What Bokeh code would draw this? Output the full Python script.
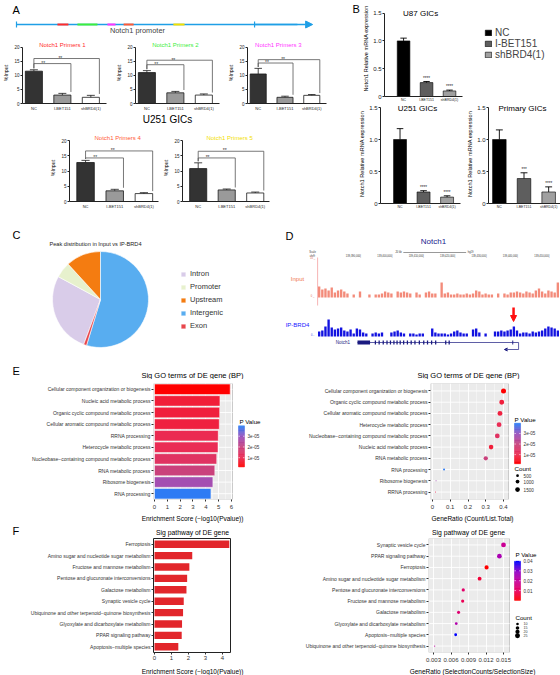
import math
from bokeh.plotting import figure
from bokeh.layouts import row, column
from bokeh.models import (Range1d, FixedTicker, ColumnDataSource,
                          LinearColorMapper, Arrow, NormalHead, VeeHead,
                          CustomJSTickFormatter, BoxAnnotation)
from bokeh.core.properties import value
from bokeh.embed import file_html
from bokeh.resources import INLINE

FONT = "Liberation Sans"

# ======================= DATA =======================
# ---- Panel A: Notch1 promoter ChIP-qPCR, U251 GICs ----
conditions = ["NC", "I-BET151", "shBRD4(1)"]
primer_names = ["Notch1 Primers 1", "Notch1 Primers 2", "Notch1 Primers 3",
                "Notch1 Primers 4", "Notch1 Primers 5"]
primer_colors = ["#FF2B2B", "#3CEE3C", "#FF33FF", "#FF5A36", "#F2E000"]
primer_start = [17.2, 25.6, 38.2, 45.0, 65.9]   # position along promoter (0-100)
primer_end = [21.8, 34.0, 41.6, 49.2, 70.6]

chip_p1 = [11.5, 3.0, 2.2]
chip_p1_sem = [0.5, 0.6, 0.7]
chip_p1_bracket = [14.2, 16.0]
chip_p2 = [11.0, 3.8, 3.0]
chip_p2_sem = [0.7, 0.5, 0.4]
chip_p2_bracket = [13.8, 15.4]
chip_p3 = [10.5, 2.2, 2.9]
chip_p3_sem = [2.0, 0.4, 0.3]
chip_p3_bracket = [14.4, 15.6]
chip_p4 = [12.8, 3.5, 2.6]
chip_p4_sem = [0.7, 0.5, 0.3]
chip_p4_bracket = [14.3, 16.6]
chip_p5 = [10.8, 3.8, 2.8]
chip_p5_sem = [1.9, 0.3, 0.3]
chip_p5_bracket = [14.3, 16.5]
chip_sig = "**"

# ---- Panel B: Notch1 relative mRNA expression ----
qpcr_u87 = [1.00, 0.25, 0.10]
qpcr_u87_sem = [0.05, 0.02, 0.015]
qpcr_u87_sig = ["", "****", "****"]
qpcr_u251 = [1.00, 0.18, 0.10]
qpcr_u251_sem = [0.17, 0.02, 0.02]
qpcr_u251_sig = ["", "****", "****"]
qpcr_primary = [1.00, 0.39, 0.18]
qpcr_primary_sem = [0.15, 0.09, 0.08]
qpcr_primary_sig = ["", "***", "****"]

# ---- Panel C: peak distribution ----
peak_types = ["Intron", "Promoter", "Upstream", "Intergenic", "Exon"]
peak_share = [27.2, 5.3, 11.8, 54.7, 1.0]
pie_clockwise_order = ["Intergenic", "Exon", "Intron", "Promoter", "Upstream"]

# ---- Panel D: genome browser, Notch1 locus (chr9, kb) ----
locus_ticks_kb = [139390, 139400, 139410, 139420, 139430, 139440, 139450]
locus_tick_labels = ["139,390,000|", "139,400,000|", "139,410,000|", "139,420,000|",
                     "139,430,000|", "139,440,000|", "139,450,000|"]
track_start_kb = 139376.2
input_signal = [11, 8, 9, 7, 10, 5, 7, 8, 6, 4,
                0, 3, 0, 6, 0, 0, 3, 0, 3, 3,
                4, 6, 5, 4, 0, 6, 5, 6, 5, 4,
                0, 5, 3, 0, 5, 6, 4, 4, 0, 15,
                4, 5, 3, 3, 4, 3, 3, 4, 3, 4,
                7, 6, 3, 4, 3, 3, 0, 4, 0, 4,
                3, 5, 5, 6, 5, 4, 6, 5, 4, 7,
                9, 6, 4, 7, 6, 5, 15]
brd4_signal = [5, 6, 10, 17, 9, 7, 8, 9, 6, 5,
               7, 3, 8, 7, 4, 3, 0, 3, 4, 3,
               4, 0, 0, 4, 5, 6, 4, 3, 0, 3,
               3, 2, 3, 3, 0, 0, 8, 4, 3, 3,
               3, 2, 3, 5, 6, 4, 3, 3, 0, 7,
               8, 4, 0, 3, 0, 0, 5, 5, 6, 5,
               6, 7, 10, 6, 3, 4, 4, 3, 5, 4,
               5, 6, 8, 10, 9, 8, 6]
notch1_start_kb = 139388.9
notch1_end_kb = 139440.2
exon_start_kb = [139388.9, 139394.4, 139395.6, 139396.9, 139398.1, 139399.2, 139400.3,
                 139401.3, 139402.3, 139403.4, 139404.6, 139405.8, 139407.0, 139408.4,
                 139409.8, 139411.0, 139412.3, 139413.6, 139416.8, 139417.9, 139438.2]
exon_end_kb = [139392.9, 139394.8, 139396.0, 139397.3, 139398.5, 139399.6, 139400.7,
               139401.7, 139402.7, 139403.8, 139405.0, 139406.2, 139407.4, 139408.8,
               139410.2, 139411.4, 139412.7, 139414.0, 139417.2, 139418.3, 139438.5]
brd4_peak_kb = 139438.6

# ---- Panel E: GO terms (BP) ----
go_terms = ["Cellular component organization or biogenesis",
            "Nucleic acid metabolic process",
            "Organic cyclic compound metabolic process",
            "Cellular aromatic compound metabolic process",
            "RRNA processing",
            "Heterocycle metabolic process",
            "Nucleobase\u2212containing compound metabolic process",
            "RNA metabolic process",
            "Ribosome biogenesis",
            "RNA processing"]
go_enrichment = [5.90, 5.10, 5.08, 5.05, 4.97, 4.95, 4.85, 4.70, 4.55, 4.40]
go_pvalue = [1.3e-6, 7.9e-6, 8.3e-6, 8.9e-6, 1.07e-5, 1.12e-5, 1.41e-5, 2.0e-5, 2.8e-5, 3.98e-5]
go_ratio = [0.400, 0.330, 0.390, 0.380, 0.017, 0.375, 0.365, 0.300, 0.020, 0.065]
go_count = [1720, 1420, 1680, 1635, 73, 1612, 1570, 1290, 86, 280]
go_count_legend = [500, 1000, 1500]
go_p_ticks = [1e-5, 2e-5, 3e-5]
go_p_tick_labels = ["1e-05", "2e-05", "3e-05"]

# ---- Panel F: KEGG pathways ----
kegg_terms = ["Ferroptosis",
              "Amino sugar and nucleotide sugar metabolism",
              "Fructose and mannose metabolism",
              "Pentose and glucuronate interconversions",
              "Galactose metabolism",
              "Synaptic vesicle cycle",
              "Ubiquinone and other terpenoid\u2212quinone biosynthesis",
              "Glyoxylate and dicarboxylate metabolism",
              "PPAR signaling pathway",
              "Apoptosis\u2212multiple species"]
kegg_enrichment = [4.40, 2.22, 2.05, 1.92, 1.88, 1.72, 1.68, 1.62, 1.60, 1.40]
kegg_pvalue = [4.0e-5, 0.0060, 0.0089, 0.0120, 0.0132, 0.0190, 0.0209, 0.0240, 0.0251, 0.0398]
kegg_ratio = [0.0121, 0.0109, 0.0080, 0.0081, 0.0073, 0.0150, 0.0032, 0.0069, 0.0143, 0.0068]
kegg_count = [19, 17, 13, 13, 12, 24, 5, 11, 23, 11]
kegg_count_legend = [10, 15, 20, 25]
kegg_p_ticks = [0.01, 0.02, 0.03, 0.04]
kegg_p_tick_labels = ["0.01", "0.02", "0.03", "0.04"]

# ======================= STYLE / HELPERS =======================
chip_fill = ["#333333", "#9A9A9A", "#FFFFFF"]
qpcr_fill = ["#000000", "#5E5E5E", "#A0A0A0"]
peak_colors = ["#D9CCE9", "#E7F1CD", "#F47C11", "#58ADF0", "#E8474C"]
PROMO_BLUE = "#1F9FE6"


def ramp(anchors, n=96):
    cols = [tuple(int(a[i:i + 2], 16) for i in (1, 3, 5)) for a in anchors]
    out = []
    for k in range(n):
        t = k / (n - 1) * (len(cols) - 1)
        i = min(int(t), len(cols) - 2)
        f = t - i
        c = [round(cols[i][j] * (1 - f) + cols[i + 1][j] * f) for j in range(3)]
        out.append("#%02x%02x%02x" % tuple(c))
    return out


pal_go = ramp(["#FF0000", "#EA2C55", "#C8427F", "#9A52BF", "#2E7BF4"])
pal_kegg = ramp(["#FF0000", "#E8005F", "#C8009A", "#9000C8", "#0000FF"])


def dot_diameter(c, cmin, cmax, dmin, dmax):
    t = (c - cmin) / (cmax - cmin)
    return math.sqrt(dmin ** 2 + (dmax ** 2 - dmin ** 2) * t)


def blank(w, h, xr=None, yr=None):
    xr = xr or (0, w)
    yr = yr or (0, h)
    p = figure(width=w, height=h, x_range=Range1d(*xr), y_range=Range1d(*yr),
               toolbar_location=None, output_backend="svg",
               x_axis_location=None, y_axis_location=None,
               min_border_left=0, min_border_right=0, min_border_top=0, min_border_bottom=0)
    p.outline_line_color = None
    p.grid.visible = False
    return p


def txt(p, x, y, s, size, color="#000000", align="left", baseline="middle", style="normal"):
    p.text(x=[x], y=[y], text=[s], text_font=value(FONT), text_font_size=size,
           text_color=color, text_align=align, text_baseline=baseline, text_font_style=style)


def axis_style(ax, size, color="#222222", tick_out=2, standoff=1, lab_size=None, lab_standoff=2):
    ax.major_label_text_font = FONT
    ax.major_label_text_font_size = size
    ax.major_label_text_color = color
    ax.major_label_standoff = standoff
    ax.axis_label_text_font = FONT
    ax.axis_label_text_font_style = "normal"
    ax.axis_label_text_color = "#000000"
    if lab_size:
        ax.axis_label_text_font_size = lab_size
    ax.axis_label_standoff = lab_standoff
    ax.major_tick_in = 0
    ax.major_tick_out = tick_out
    ax.minor_tick_line_color = None


def frame_fig(w, h, xr, yr, mbl, mbr, mbt, mbb):
    return figure(width=w, height=h, x_range=xr, y_range=yr, toolbar_location=None,
                  output_backend="svg", min_border_left=mbl, min_border_right=mbr,
                  min_border_top=mbt, min_border_bottom=mbb)


# ======================= PANEL A =======================
promo = blank(345, 38, (-6.72, 138.2), (0, 38))
promo.line(x=[0, 118], y=[14, 14], line_color=PROMO_BLUE, line_width=1.6)
promo.add_layout(Arrow(end=NormalHead(size=7, fill_color=PROMO_BLUE, line_color=PROMO_BLUE),
                       x_start=100, y_start=14, x_end=124.4, y_end=14,
                       line_color=PROMO_BLUE, line_width=1.6))
promo.segment(x0=[0, 100], y0=[11, 11], x1=[0, 100], y1=[17, 17], line_color=PROMO_BLUE, line_width=1.2)
promo.segment(x0=primer_start, y0=[14] * 5, x1=primer_end, y1=[14] * 5,
              line_color=primer_colors, line_width=2.2)
txt(promo, 50.8, 8, "Notch1 promoter", "7.4px", "#444444", "center")
txt(promo, -1.68, 35, "A", "11px", "#000000", "left", "top")


def chip_chart(title, tcolor, title_x, mean, sem, bracket, w, h, mbl, mbr, mbt, mbb, xr, ytop):
    p = frame_fig(w, h, Range1d(*xr), Range1d(0, ytop), mbl, mbr, mbt, mbb)
    p.outline_line_color = None
    p.grid.visible = False
    xs = list(range(len(conditions)))
    tops = [m + s for m, s in zip(mean, sem)]
    p.vbar(x=xs, top=mean, width=0.6, fill_color=chip_fill, line_color="#1a1a1a", line_width=0.8)
    p.segment(x0=xs, y0=mean, x1=xs, y1=tops, line_color="#1a1a1a", line_width=0.8)
    p.segment(x0=[x - 0.14 for x in xs], y0=tops, x1=[x + 0.14 for x in xs], y1=tops,
              line_color="#1a1a1a", line_width=0.8)
    for j, lvl in zip([1, 2], bracket):
        xe = xs[j] + 0.3
        p.line(x=[xs[0], xs[0], xe, xe], y=[tops[0] + 0.5, lvl, lvl, tops[j] + 0.5],
               line_color="#555555", line_width=0.8)
        txt(p, 0.33 + 0.6 * (j - 1), lvl + 0.25, chip_sig, "5px", "#333333", "center")
    txt(p, title_x, 20.75, title, "6px", tcolor, "center")
    p.yaxis.ticker = FixedTicker(ticks=[0, 5, 10, 15, 20])
    p.yaxis.bounds = (0, 20)
    p.yaxis.axis_label = "%Input"
    axis_style(p.yaxis[0], "4.5px", lab_size="5.3px", lab_standoff=2)
    p.yaxis.axis_line_color = "#222222"
    p.yaxis.major_tick_line_color = "#222222"
    p.xaxis.ticker = FixedTicker(ticks=xs)
    p.xaxis.major_label_overrides = {i: c for i, c in enumerate(conditions)}
    axis_style(p.xaxis[0], "4px", tick_out=0, standoff=2)
    p.xaxis.major_tick_line_color = None
    p.xaxis.axis_line_color = "#222222"
    return p


a1 = chip_chart(primer_names[0], primer_colors[0], 1.0, chip_p1, chip_p1_sem, chip_p1_bracket,
                112, 75, 22, 6, 4, 6, (-0.4, 2.55), 21.7)
a2 = chip_chart(primer_names[1], primer_colors[1], 1.0, chip_p2, chip_p2_sem, chip_p2_bracket,
                113, 75, 23, 6, 4, 6, (-0.4, 2.55), 21.7)
a3 = chip_chart(primer_names[2], primer_colors[2], 0.75, chip_p3, chip_p3_sem, chip_p3_bracket,
                120, 75, 17, 19, 4, 6, (-0.4, 2.55), 21.7)
u251_strip = blank(345, 12)
txt(u251_strip, 167, 6, "U251 GICs", "10px", "#000000", "center")
a4 = chip_chart(primer_names[3], primer_colors[3], 1.1, chip_p4, chip_p4_sem, chip_p4_bracket,
                160, 103, 69, 2, 9, 27, (-0.55, 2.5), 22)
a5 = chip_chart(primer_names[4], primer_colors[4], 1.1, chip_p5, chip_p5_sem, chip_p5_bracket,
                185, 103, 20, 76, 9, 27, (-0.55, 2.5), 22)


# ======================= PANEL B =======================
def qpcr_chart(title, mean, sem, sig, w, h, mbl, mbr, mbt, mbb, xr, ytop, title_x, xbounds, legend=False):
    p = frame_fig(w, h, Range1d(*xr), Range1d(0, ytop), mbl, mbr, mbt, mbb)
    p.outline_line_color = None
    p.grid.visible = False
    xs = list(range(len(conditions)))
    src = ColumnDataSource(dict(x=xs, top=mean, cond=conditions, color=qpcr_fill))
    kw = dict(legend_field="cond") if legend else {}
    p.vbar(x="x", top="top", width=0.55, source=src, fill_color="color",
           line_color="#000000", line_width=0.6, **kw)
    tops = [m + s for m, s in zip(mean, sem)]
    p.segment(x0=xs, y0=mean, x1=xs, y1=tops, line_color="#000000", line_width=0.9)
    p.segment(x0=[x - 0.14 for x in xs], y0=tops, x1=[x + 0.14 for x in xs], y1=tops,
              line_color="#000000", line_width=0.9)
    p.text(x=xs, y=[t + 0.015 for t in tops], text=sig, text_font=value(FONT),
           text_font_size="4.5px", text_color="#222222", text_align="center",
           text_baseline="bottom")
    txt(p, title_x, 1.49, title, "8px", "#000000", "center")
    p.yaxis.ticker = FixedTicker(ticks=[0, 0.5, 1.0, 1.5])
    p.yaxis.bounds = (0, 1.5)
    p.yaxis.formatter = CustomJSTickFormatter(code="return tick == 0 ? '0' : tick.toFixed(1);")
    p.yaxis.axis_label = "Notch1 Relative mRNA expression"
    axis_style(p.yaxis[0], "6px", tick_out=2, standoff=1, lab_size="5.6px", lab_standoff=1)
    p.yaxis.axis_line_color = "#222222"
    p.yaxis.major_tick_line_color = "#222222"
    p.xaxis.ticker = FixedTicker(ticks=xs)
    p.xaxis.bounds = xbounds
    p.xaxis.major_label_overrides = {i: c for i, c in enumerate(conditions)}
    axis_style(p.xaxis[0], "3.5px", tick_out=0, standoff=1)
    p.xaxis.major_tick_line_color = None
    p.xaxis.axis_line_color = "#222222"
    if legend:
        lg = p.legend[0]
        lg.location = (100, 36)
        lg.label_text_font = FONT
        lg.label_text_font_size = "10px"
        lg.glyph_width = 8
        lg.glyph_height = 7
        lg.label_height = 9
        lg.label_standoff = 3
        lg.spacing = 0
        lg.padding = 0
        lg.margin = 0
        lg.border_line_color = None
        lg.background_fill_alpha = 0
    return p


bL = blank(15, 104)
txt(bL, 7, 101, "B", "11px", "#000000", "left", "top")
b1 = qpcr_chart("U87 GICs", qpcr_u87, qpcr_u87_sem, qpcr_u87_sig,
                200, 104, 20, 0, 0, 5, (-0.83, 6.83), 1.727, 0.74, (-0.83, 2.57), legend=True)
b2 = qpcr_chart("U251 GICs", qpcr_u251, qpcr_u251_sem, qpcr_u251_sig,
                119, 124, 35, 4, 0, 25, (-0.83, 2.57), 1.547, 0.74, (-0.83, 2.57))
b3 = qpcr_chart("Primary GICs", qpcr_primary, qpcr_primary_sem, qpcr_primary_sig,
                96, 124, 20, 0, 0, 25, (-0.44, 2.48), 1.547, 0.94, (-0.44, 2.48))

# ======================= PANEL C =======================
figC = blank(280, 130)
total = sum(peak_share)
a = math.pi / 2
angles = {}
for name in pie_clockwise_order:
    span = 2 * math.pi * peak_share[peak_types.index(name)] / total
    angles[name] = (a, a - span)
    a -= span
srcC = ColumnDataSource(dict(kind=peak_types, share=peak_share,
                             a0=[angles[k][0] for k in peak_types],
                             a1=[angles[k][1] for k in peak_types],
                             color=peak_colors))
figC.wedge(x=100, y=59, radius=48, start_angle="a0", end_angle="a1", direction="clock",
           fill_color="color", line_color="white", line_width=0.6, source=srcC,
           legend_field="kind")
lgC = figC.legend[0]
lgC.location = (180, 26)
lgC.label_text_font = FONT
lgC.label_text_font_size = "7.5px"
lgC.label_text_color = "#333333"
lgC.glyph_width = 6
lgC.glyph_height = 6
lgC.label_height = 13
lgC.label_standoff = 4
lgC.spacing = 0
lgC.padding = 0
lgC.margin = 0
lgC.border_line_color = None
lgC.background_fill_alpha = 0
txt(figC, 12, 124, "C", "11px")
txt(figC, 95, 115, "Peak distribution in Input vs IP-BRD4", "5.6px", "#222222", "center")

# ======================= PANEL D =======================
figD = blank(280, 130, (139364.38, 139453.55), (0, 130))
txt(figD, 139366.0, 123, "D", "11px")
txt(figD, 139413.1, 117, "Notch1", "8px", "#22228E", "center")
txt(figD, 139374.6, 106, "Scale", "2.6px", "#333333", "center")
txt(figD, 139374.6, 102, "chr9:", "2.6px", "#333333", "center")
figD.line(x=[139403.5, 139423.5], y=[106, 106], line_color="#333333", line_width=0.5)
txt(figD, 139403.0, 106.5, "20 kb", "2.6px", "#333333", "right")
txt(figD, 139424.0, 106.5, "hg19", "2.6px", "#333333", "left")
figD.text(x=locus_ticks_kb, y=[102] * len(locus_ticks_kb), text=locus_tick_labels,
          text_font=value(FONT), text_font_size="2.6px", text_color="#333333",
          text_align="right", text_baseline="middle")
figD.line(x=[track_start_kb, track_start_kb], y=[53, 101], line_color="#F4A0A0", line_width=0.8)
txt(figD, 139374.6, 100, "10 _", "2.6px", "#E06060", "center")
txt(figD, 139374.6, 62, "0 _", "2.6px", "#E06060", "center")
txt(figD, 139374.6, 23, "0 -", "2.6px", "#3030E0", "center")
txt(figD, 139369.8, 80, "Input", "6px", "#F07850", "center")
txt(figD, 139369.8, 34, "IP-BRD4", "6px", "#2020FF", "center")
in_x = [track_start_kb + i + 0.5 for i in range(len(input_signal))]
figD.vbar(x=in_x, width=0.75, bottom=61, top=[61 + v for v in input_signal],
          fill_color="#F38B7A", line_color=None)
br_x = [track_start_kb + i + 0.5 for i in range(len(brd4_signal))]
figD.vbar(x=br_x, width=0.75, bottom=22, top=[22 + v for v in brd4_signal],
          fill_color="#1212E0", line_color=None)
figD.add_layout(Arrow(end=NormalHead(size=6, fill_color="#FF1010", line_color="#FF1010"),
                      x_start=brd4_peak_kb, y_start=51, x_end=brd4_peak_kb, y_end=37,
                      line_color="#FF1010", line_width=2.5))
figD.line(x=[notch1_start_kb, notch1_end_kb], y=[16, 16], line_color="#1A1A80", line_width=0.7)
figD.quad(left=exon_start_kb, right=exon_end_kb, bottom=[14] * len(exon_start_kb),
          top=[18] * len(exon_start_kb), fill_color="#1A1A80", line_color=None)
txt(figD, 139386.5, 16, "Notch1", "4.5px", "#1A1A80", "right")
figD.line(x=[notch1_end_kb, notch1_end_kb], y=[16, 9], line_color="#1A1A80", line_width=0.7)
figD.add_layout(Arrow(end=VeeHead(size=3, fill_color="#1A1A80", line_color="#1A1A80"),
                      x_start=notch1_end_kb, y_start=9, x_end=139435.7, y_end=9,
                      line_color="#1A1A80", line_width=0.7))


# ======================= PANELS E / F =======================
def term_axis(p, terms_top_to_bottom):
    n = len(terms_top_to_bottom)
    pos = {t: n - 1 - i for i, t in enumerate(terms_top_to_bottom)}
    p.yaxis.ticker = FixedTicker(ticks=list(range(n)))
    p.yaxis.major_label_overrides = {n - 1 - i: t for i, t in enumerate(terms_top_to_bottom)}
    return pos


def panel_axes(p, xticks, minor, fmt=None):
    p.xaxis.ticker = FixedTicker(ticks=xticks, minor_ticks=minor)
    if fmt:
        p.xaxis.formatter = CustomJSTickFormatter(code=fmt)
    axis_style(p.xaxis[0], "6px", color="#333333", tick_out=2, standoff=1)
    axis_style(p.yaxis[0], "5px", color="#333333", tick_out=2, standoff=1)
    p.xaxis.axis_line_color = None
    p.yaxis.axis_line_color = None
    p.xaxis.major_tick_line_color = "#333333"
    p.yaxis.major_tick_line_color = "#333333"


def gray_panel(p, left, right, ys):
    p.outline_line_color = None
    p.add_layout(BoxAnnotation(left=left, right=right, fill_color="#EBEBEB", fill_alpha=1,
                               line_color="#444444", line_width=0.8, level="image"))
    p.xgrid.grid_line_color = "white"
    p.xgrid.grid_line_width = 0.9
    p.xgrid.minor_grid_line_color = "white"
    p.xgrid.minor_grid_line_width = 0.4
    p.ygrid.visible = False
    p.segment(x0=[left] * len(ys), x1=[right] * len(ys), y0=ys, y1=ys,
              line_color="white", line_width=0.9)


def colorbar_glyphs(p, mapper, low, high, ticks, tick_labels, x0, x1, ybot, ytop, xlab, title_xy):
    n = 48
    edges = [ybot + (ytop - ybot) * k / n for k in range(n + 1)]
    pv = [low + (high - low) * (k + 0.5) / n for k in range(n)]
    src = ColumnDataSource(dict(b=edges[:-1], t=edges[1:], p=pv))
    p.quad(left=x0, right=x1, bottom="b", top="t", source=src,
           fill_color={"field": "p", "transform": mapper},
           line_color={"field": "p", "transform": mapper}, line_width=0.4)
    ty = [ybot + (t - low) / (high - low) * (ytop - ybot) for t in ticks]
    w = (x1 - x0) * 0.22
    p.segment(x0=[x0] * len(ty), x1=[x0 + w] * len(ty), y0=ty, y1=ty, line_color="white", line_width=0.7)
    p.segment(x0=[x1 - w] * len(ty), x1=[x1] * len(ty), y0=ty, y1=ty, line_color="white", line_width=0.7)
    p.text(x=[xlab] * len(ty), y=ty, text=tick_labels, text_font=value(FONT),
           text_font_size="4.6px", text_color="#333333", text_align="left", text_baseline="middle")
    txt(p, title_xy[0], title_xy[1], "P Value", "6.2px", "#000000", "left")


# --- E strips ---
topE = blank(560, 21)
txt(topE, 12, 9, "E", "11px")
txt(topE, 192, 4, "Sig GO terms of DE gene (BP)", "7.5px", "#000000", "center")
txt(topE, 468, 4, "Sig GO terms of DE gene (BP)", "7.5px", "#000000", "center")
botE = blank(560, 12)
txt(botE, 192, 6, "Enrichment Score (\u2212log10(Pvalue))", "6.5px", "#000000", "center")
txt(botE, 472, 6, "GeneRatio (Count/List.Total)", "6.5px", "#000000", "center")

map_go = LinearColorMapper(palette=pal_go, low=min(go_pvalue), high=max(go_pvalue))
map_kegg = LinearColorMapper(palette=pal_kegg, low=min(kegg_pvalue), high=max(kegg_pvalue))

# --- E left: bar chart ---
e1 = frame_fig(280, 133, Range1d(-0.078, 9.82), Range1d(-0.5, 9.5), 153, 0, 2, 13)
pos_e1 = term_axis(e1, go_terms)
gray_panel(e1, -0.078, 6.08, [pos_e1[t] for t in go_terms])
srcE1 = ColumnDataSource(dict(y=[pos_e1[t] for t in go_terms], term=go_terms,
                              score=go_enrichment, p=go_pvalue))
e1.hbar(y="y", left=0, right="score", height=0.9, source=srcE1,
        fill_color={"field": "p", "transform": map_go}, line_color="white", line_width=0.5)
panel_axes(e1, [0, 1, 2, 3, 4, 5, 6], [0.5, 1.5, 2.5, 3.5, 4.5, 5.5])
colorbar_glyphs(e1, map_go, min(go_pvalue), max(go_pvalue), go_p_ticks, go_p_tick_labels,
                6.55, 7.01, 2.30, 5.86, 7.25, (6.62, 6.2))

# --- E right: dot plot ---
go_dot_order = sorted(go_terms, key=lambda t: -go_ratio[go_terms.index(t)])
e2 = frame_fig(280, 133, Range1d(-0.0113, 0.721), Range1d(-0.665, 9.665), 150, 0, 4, 12)
pos_e2 = term_axis(e2, go_dot_order)
gray_panel(e2, -0.0113, 0.4282, [pos_e2[t] for t in go_terms])
go_cmin, go_cmax = min(go_count), max(go_count)
srcE2 = ColumnDataSource(dict(y=[pos_e2[t] for t in go_terms], term=go_terms, ratio=go_ratio,
                              p=go_pvalue,
                              size=[dot_diameter(c, go_cmin, go_cmax, 1.0, 5.0) for c in go_count]))
e2.scatter(x="ratio", y="y", size="size", source=srcE2,
           fill_color={"field": "p", "transform": map_go}, line_color=None)
panel_axes(e2, [0, 0.1, 0.2, 0.3, 0.4], [0.05, 0.15, 0.25, 0.35],
           "return tick == 0 ? '0' : tick.toFixed(1);")
colorbar_glyphs(e2, map_go, min(go_pvalue), max(go_pvalue), go_p_ticks, go_p_tick_labels,
                0.462, 0.496, 2.516, 6.135, 0.513, (0.462, 6.49))
txt(e2, 0.462, 2.075, "Count", "6.2px", "#000000", "left")
go_leg_y = [1.457, 0.927, 0.221]
e2.scatter(x=[0.479] * 3, y=go_leg_y,
           size=[dot_diameter(c, go_cmin, go_cmax, 1.0, 5.0) for c in go_count_legend],
           fill_color="#000000", line_color=None)
e2.text(x=[0.513] * 3, y=go_leg_y, text=[str(c) for c in go_count_legend],
        text_font=value(FONT), text_font_size="4.6px", text_color="#333333",
        text_align="left", text_baseline="middle")

# --- F strips ---
topF = blank(560, 14)
txt(topF, 12, 8, "F", "11px")
txt(topF, 192, 6, "Sig pathway of DE gene", "6.8px", "#000000", "center")
txt(topF, 468, 6, "Sig pathway of DE gene", "6.8px", "#000000", "center")
botF = blank(560, 11)
txt(botF, 192, 5, "Enrichment Score (\u2212log10(Pvalue))", "6.5px", "#000000", "center")
txt(botF, 472, 5, "GeneRatio (SelectionCounts/SelectionSize)", "6.5px", "#000000", "center")

# --- F left: bar chart ---
f1 = frame_fig(280, 126, Range1d(-0.059, 4.47), Range1d(-0.5, 9.5), 153, 50, 0, 10)
pos_f1 = term_axis(f1, kegg_terms)
f1.background_fill_color = "white"
f1.grid.visible = False
f1.outline_line_color = "#222222"
f1.outline_line_width = 1
srcF1 = ColumnDataSource(dict(y=[pos_f1[t] for t in kegg_terms], term=kegg_terms,
                              score=kegg_enrichment))
f1.hbar(y="y", left=0, right="score", height=0.65, source=srcF1,
        fill_color="#E2262B", line_color=None)
panel_axes(f1, [0, 1, 2, 3, 4], [])

# --- F right: dot plot ---
kegg_dot_order = sorted(kegg_terms, key=lambda t: -kegg_ratio[kegg_terms.index(t)])
f2 = frame_fig(280, 126, Range1d(0.002143, 0.02477), Range1d(-0.575, 9.575), 148, 0, 0, 10)
pos_f2 = term_axis(f2, kegg_dot_order)
gray_panel(f2, 0.002143, 0.01603, [pos_f2[t] for t in kegg_terms])
kg_cmin, kg_cmax = min(kegg_count), max(kegg_count)
srcF2 = ColumnDataSource(dict(y=[pos_f2[t] for t in kegg_terms], term=kegg_terms,
                              ratio=kegg_ratio, p=kegg_pvalue,
                              size=[dot_diameter(c, kg_cmin, kg_cmax, 1.2, 4.8) for c in kegg_count]))
f2.scatter(x="ratio", y="y", size="size", source=srcF2,
           fill_color={"field": "p", "transform": map_kegg}, line_color=None)
panel_axes(f2, [0.003, 0.006, 0.009, 0.012, 0.015], [0.0045, 0.0075, 0.0105, 0.0135],
           "return tick.toFixed(3);")
colorbar_glyphs(f2, map_kegg, min(kegg_pvalue), max(kegg_pvalue), kegg_p_ticks, kegg_p_tick_labels,
                0.01689, 0.01792, 4.063, 7.563, 0.01843, (0.01705, 8.175))
txt(f2, 0.01705, 2.576, "Count", "6.2px", "#000000", "left")
kegg_leg_y = [1.963, 1.613, 1.264, 0.914]
f2.scatter(x=[0.01740] * 4, y=kegg_leg_y,
           size=[dot_diameter(c, kg_cmin, kg_cmax, 1.2, 4.8) for c in kegg_count_legend],
           fill_color="#000000", line_color=None)
f2.text(x=[0.01843] * 4, y=kegg_leg_y, text=[str(c) for c in kegg_count_legend],
        text_font=value(FONT), text_font_size="3.6px", text_color="#333333",
        text_align="left", text_baseline="middle")

# ======================= LAYOUT =======================
colA = column(promo, row(a1, a2, a3), u251_strip, row(a4, a5))
colB = column(row(bL, b1), row(b2, b3))
page = column(row(colA, colB),
              row(figC, figD),
              column(topE, row(e1, e2), botE),
              column(topF, row(f1, f2), botF))

open("out.html", "w").write(file_html(page, INLINE))
